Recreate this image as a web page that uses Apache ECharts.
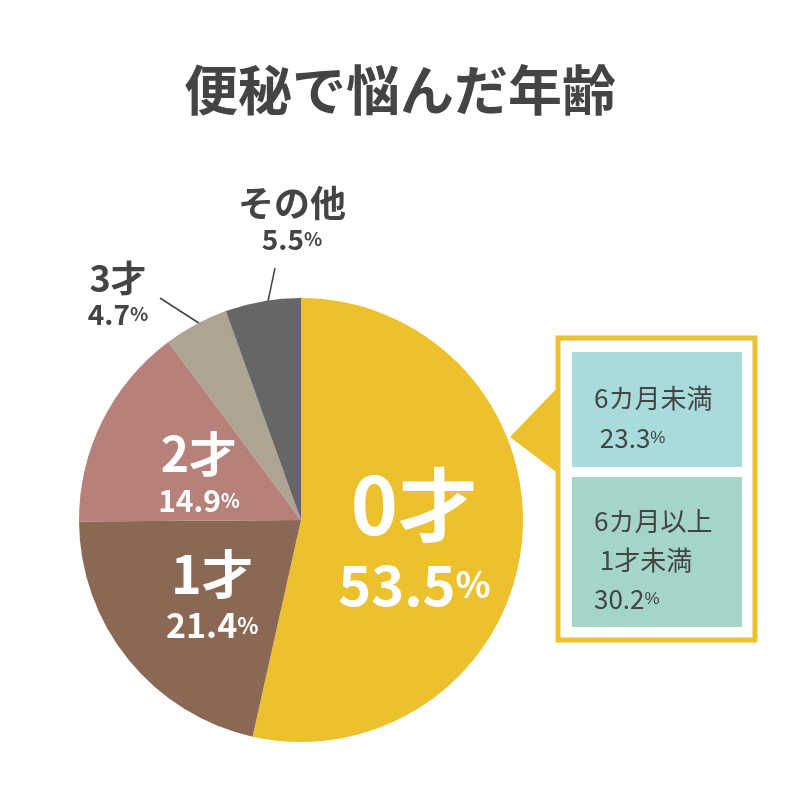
<!DOCTYPE html><html><head><meta charset="utf-8"><script src="https://cdn.jsdelivr.net/npm/echarts@6/dist/echarts.min.js"></script></head><body style="margin:0"><div id="c" style="width:800px;height:800px"></div><script>
const categories=['0才','1才','2才','3才','その他'];
const values=[53.5,21.4,14.9,4.7,5.5];
const colors=['#EDC12E','#8B6854','#B5817A','#ADA494','#666666'];
const ch=echarts.init(document.getElementById('c'));
const F='"Noto Sans CJK JP",sans-serif';
const pos=[[412,522],[205,612],[178,462]];
const big=[[80,56],[52,34],[48,30]];
const data=categories.map((n,i)=>{
 const d={name:n,value:values[i],itemStyle:{color:colors[i]}};
 if(i<3){d.label={show:true,position:'inside',formatter:'{a|'+n+'}\n{b|'+values[i]+'}{c|%}',
  rich:{a:{fontSize:big[i][0],fontWeight:'bold',color:'#fff',fontFamily:F,lineHeight:big[i][0]*1.3},
   b:{fontSize:big[i][1],fontWeight:'bold',color:'#fff',fontFamily:F},
   c:{fontSize:big[i][1]*0.65,fontWeight:'bold',color:'#fff',fontFamily:F}}};
  d.labelLayout={x:pos[i][0],y:pos[i][1],align:'center',verticalAlign:'middle'};}
 else d.label={show:false};
 return d;});
const outer=[{t:'{a|3才}\n{b|4.7}{c|%}',x:118,y:292},{t:'{a|その他}\n{b|5.5}{c|%}',x:292,y:217}];
const rich={a:{fontSize:36,fontWeight:'bold',fill:'#444',fontFamily:F,lineHeight:44},b:{fontSize:28,fontWeight:'bold',fill:'#444',fontFamily:F},c:{fontSize:19,fontWeight:'bold',fill:'#444',fontFamily:F}};
ch.setOption({animation:false,backgroundColor:'#fff',
title:{text:'便秘で悩んだ年齢',left:'center',top:58,textStyle:{fontSize:54,fontWeight:'bold',color:'#444',fontFamily:F}},
graphic:[
 {type:'polygon',shape:{points:[[560,385],[510,437],[560,475]]},style:{fill:'#EDC12E'}},
 {type:'rect',shape:{x:558,y:338,width:197,height:302},style:{fill:'#fff',stroke:'#EDC12E',lineWidth:5}},
 {type:'rect',shape:{x:572,y:352,width:170,height:115},style:{fill:'#A8DCDC'}},
 {type:'rect',shape:{x:572,y:477,width:170,height:150},style:{fill:'#A3D5C8'}},
 {type:'text',left:594,top:378,style:{text:'6カ月未満\n 23.3{p|%}',fontSize:26,lineHeight:40,fill:'#444',fontFamily:F,rich:{p:{fontSize:17,fill:'#444'}}}},
 {type:'text',left:594,top:502,style:{text:'6カ月以上\n 1才未満\n30.2{p|%}',fontSize:26,lineHeight:39,fill:'#444',fontFamily:F,rich:{p:{fontSize:17,fill:'#444'}}}},
 {type:'line',shape:{x1:160,y1:298,x2:222,y2:338},style:{stroke:'#444',lineWidth:1.5}},
 {type:'line',shape:{x1:275,y1:268,x2:262,y2:330},style:{stroke:'#444',lineWidth:1.5}},
 ...outer.map(o=>({type:'text',x:o.x,y:o.y,style:{text:o.t,rich:rich,align:'center',verticalAlign:'middle',textAlign:'center',textVerticalAlign:'middle'}}))
],
series:[{type:'pie',center:[301,520],radius:[0,222],startAngle:90,clockwise:true,data:data}]});
</script></body></html>
